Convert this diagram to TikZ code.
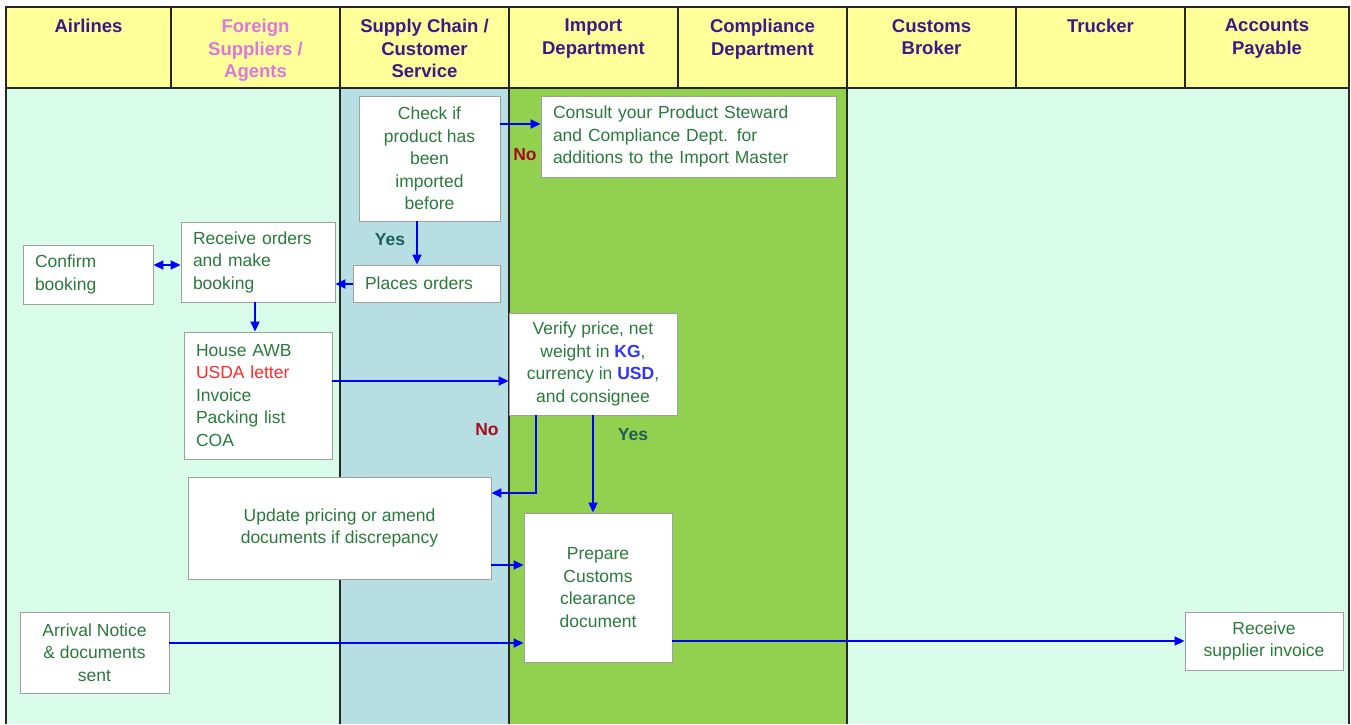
\documentclass[tikz,border=0pt]{standalone}
\usepackage{fontspec}
\setmainfont{Liberation Sans}
\usepackage{xcolor}
\usetikzlibrary{positioning,calc,arrows.meta}
\definecolor{headfill}{HTML}{FFFF99}
\definecolor{headtext}{HTML}{3B1A87}
\definecolor{agenttext}{HTML}{DD77DD}
\definecolor{mintlane}{HTML}{D9FCEA}
\definecolor{bluelane}{HTML}{B7DEE2}
\definecolor{greenlane}{HTML}{92D050}
\definecolor{steptext}{HTML}{2A7A3C}
\definecolor{notext}{HTML}{A50E1E}
\definecolor{yestext}{HTML}{1F5F5A}
\definecolor{flowblue}{HTML}{0000FF}
\definecolor{keyblue}{HTML}{3333FF}
\definecolor{warnred}{HTML}{FF2A2A}
\tikzset{
  figfont/.style={font=\fontsize{17.5}{22.5}\selectfont},
  lanehead/.style={font=\fontsize{18.5}{22.5}\selectfont\bfseries, text=headtext, align=center, anchor=north, inner sep=0pt},
  laneline/.style={draw=black!85, line width=1.1pt},
  stepbox/.style={draw=gray!75, line width=0.9pt, fill=white, figfont, text=steptext, align=center, inner sep=0pt},
  stepboxleft/.style={stepbox, align=left, inner xsep=12pt},
  flowarrow/.style={draw=flowblue, line width=1.8pt, -{Triangle[length=10pt,width=9pt]}},
  nolabel/.style={font=\fontsize{17.5}{22.5}\selectfont\bfseries, text=notext, inner sep=0pt},
  yeslabel/.style={font=\fontsize{17.5}{22.5}\selectfont\bfseries, text=yestext, inner sep=0pt},
}
\newcommand{\keyword}[1]{\textcolor{keyblue}{\textbf{#1}}}

\begin{document}
\begin{tikzpicture}[x=1pt, y=-1pt]
	\useasboundingbox (0,0) rectangle (1351,724);

	% Lane bodies
	\fill[mintlane] (6,88) rectangle (340,724);
	\fill[bluelane] (340,88) rectangle (509,724);
	\fill[greenlane] (509,88) rectangle (847,724);
	\fill[mintlane] (847,88) rectangle (1349,724);
	\draw[laneline] (6,88) -- (6,724) (340,88) -- (340,724) (509,88) -- (509,724)
		(847,88) -- (847,724) (1349,88) -- (1349,724);

	% Header row
	\draw[laneline, fill=headfill] (6,7) rectangle (1349,88);
	\draw[laneline] (171,7) -- (171,88) (340,7) -- (340,88) (509,7) -- (509,88)
		(678,7) -- (678,88) (847,7) -- (847,88) (1016,7) -- (1016,88) (1185,7) -- (1185,88);
	\node[lanehead] (hAir) at (88.5,19) {Airlines};
	\node[lanehead, text=agenttext] (hAgent) at (255.5,19) {Foreign\\Suppliers /\\Agents};
	\node[lanehead] (hSupply) at (424.5,19) {Supply Chain /\\Customer\\Service};
	\node[lanehead] (hImport) at (593.5,19) {Import\\Department};
	\node[lanehead] (hCompl) at (762.5,19) {Compliance\\Department};
	\node[lanehead] (hBroker) at (931.5,19) {Customs\\Broker};
	\node[lanehead] (hTruck) at (1100.5,19) {Trucker};
	\node[lanehead] (hPay) at (1267,19) {Accounts\\Payable};

	% Steps
	\node[stepbox, minimum width=141pt, minimum height=125pt] (check) at (429.5,158.5)
		{Check if\\product has\\been\\imported\\before};
	\node[stepboxleft, text width=271pt, minimum height=81pt] (consult) at (688.5,136.5)
		{Consult your Product Steward\\and Compliance Dept. for\\additions to the Import Master};
	\node[stepboxleft, text width=106pt, minimum height=59pt] (confirm) at (88,274.5)
		{Confirm\\booking};
	\node[stepboxleft, text width=130pt, minimum height=80pt] (recv) at (258,262)
		{Receive orders\\and make\\booking};
	\node[stepboxleft, text width=123pt, minimum height=37pt] (places) at (426.5,283.5)
		{Places orders};
	\node[stepboxleft, text width=124pt, minimum height=127pt] (house) at (258,395.5)
		{House AWB\\\textcolor{warnred}{USDA letter}\\Invoice\\Packing list\\COA};
	\node[stepbox, minimum width=168pt, minimum height=102pt] (verify) at (593,364)
		{Verify price, net\\weight in \keyword{KG},\\currency in \keyword{USD},\\and consignee};
	\node[stepbox, minimum width=303pt, minimum height=102pt] (update) at (339.5,528)
		{Update pricing or amend\\documents if discrepancy};
	\node[stepbox, minimum width=148pt, minimum height=149pt] (prepare) at (598,587.5)
		{Prepare\\Customs\\clearance\\document};
	\node[stepbox, minimum width=149pt, minimum height=81pt] (arrival) at (94.5,652.5)
		{Arrival Notice\\\& documents\\sent};
	\node[stepbox, minimum width=158pt, minimum height=58pt] (invoice) at (1264,641)
		{Receive\\supplier invoice};

	% Decision labels
	\node[nolabel] (noConsult) at (525,155) {No};
	\node[yeslabel] (yesPlaces) at (390,240) {Yes};
	\node[nolabel] (noUpdate) at (487,430) {No};
	\node[yeslabel] (yesPrepare) at (633,435) {Yes};

	% Flow
	\draw[flowarrow] ([yshift=34.5pt]check.east) coordinate (a) -- (a -| consult.west);
	\draw[flowarrow] ([xshift=-12.5pt]check.south) coordinate (b) -- (b |- places.north);
	\draw[flowarrow] ([yshift=-0.5pt]places.west) coordinate (p) -- (p -| recv.east);
	\draw[flowarrow, {Triangle[length=10pt,width=9pt]}-{Triangle[length=10pt,width=9pt]}]
		([yshift=-3pt]recv.west) coordinate (c) -- (c -| confirm.east);
	\draw[flowarrow] ([xshift=-3pt]recv.south) coordinate (d) -- (d |- house.north);
	\draw[flowarrow] ([yshift=14.5pt]house.east) coordinate (e) -- (e -| verify.west);
	\draw[flowarrow] ([xshift=-57pt]verify.south) |- ([yshift=35pt]update.east);
	\draw[flowarrow] (verify.south) -- (verify.south |- prepare.north);
	\draw[flowarrow] ([yshift=-37pt]update.east) coordinate (f) -- (f -| prepare.west);
	\draw[flowarrow] ([yshift=9.5pt]arrival.east) coordinate (g) -- (g -| prepare.west);
	\draw[flowarrow] (invoice.west -| prepare.east) -- (invoice.west);
\end{tikzpicture}
\end{document}
